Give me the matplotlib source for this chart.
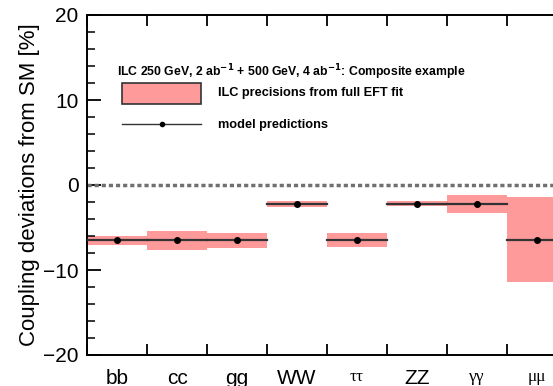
"""ILC composite Higgs example: coupling deviations vs. EFT-fit precisions."""

import matplotlib
matplotlib.use("Agg")
import matplotlib.pyplot as plt
from matplotlib.patches import Rectangle
from matplotlib.lines import Line2D

plt.rcParams["font.family"] = ["Liberation Sans", "DejaVu Sans"]

couplings = ["bb", "cc", "gg", "WW", "ττ", "ZZ", "γγ", "μμ"]
predictions = [-6.5, -6.5, -6.5, -2.2, -6.5, -2.2, -2.2, -6.5]
band_high = [-6.0, -5.4, -5.6, -1.85, -5.7, -1.9, -1.2, -1.45]
band_low = [-7.1, -7.6, -7.45, -2.55, -7.25, -2.5, -3.35, -11.45]
n_bins = 9  # plot continues past the right edge of the crop

band_color = "#ff9a9a"

fig = plt.figure(figsize=(5.53, 3.86), dpi=100)
ax = fig.add_axes([87 / 553, 31 / 386, n_bins * 60 / 553, 340 / 386])

for i, (pred, hi, lo) in enumerate(zip(predictions, band_high, band_low)):
    ax.add_patch(Rectangle((i, lo), 1, hi - lo, facecolor=band_color,
                           edgecolor="none", zorder=1))
    ax.plot([i, i + 1], [pred, pred], color="#333333", lw=1.6, zorder=3)
    ax.plot(i + 0.5, pred, "o", color="black", ms=4, zorder=4)

ax.axhline(0, color="#707070", lw=2.5, ls=(0, (1.2, 0.85)), zorder=2)

ax.set_xlim(0, n_bins)
ax.set_ylim(-20, 20)

ax.set_yticks([-20, -10, 0, 10, 20])
ax.set_yticklabels(["\u221220", "\u221210", "0", "10", "20"])
ax.set_yticks(range(-20, 21, 2), minor=True)
ax.tick_params(axis="y", which="major", direction="in", length=10, width=1.3,
               labelsize=15, pad=6)
ax.tick_params(axis="y", which="minor", direction="in", length=5.5, width=1.1)

ax.set_xticks([i + 0.5 for i in range(len(couplings))])
ax.set_xticklabels(couplings)
for lbl in ax.get_xticklabels():
    if lbl.get_text() in ("ττ", "γγ", "μμ"):
        lbl.set_family(["Liberation Serif", "DejaVu Serif"])
        lbl.set_fontsize(12.5)
    else:
        lbl.set_fontsize(15)
ax.set_xticks(range(0, n_bins + 1), minor=True)
ax.tick_params(axis="x", which="major", length=0, pad=10)
ax.tick_params(axis="x", which="minor", direction="in", length=8, width=1.3,
               top=True, bottom=True)

for sp in ax.spines.values():
    sp.set_linewidth(1.4)

ax.set_ylabel("Coupling deviations from SM [%]", fontsize=16, labelpad=2)

# legend drawn by hand, as in the original figure
ax.text(117, 386 - 72,
        r"ILC 250 GeV, 2 ab$^{\mathbf{-1}}$ + 500 GeV, 4 ab$^{\mathbf{-1}}$: Composite example",
        transform=None, fontsize=8.8, fontweight="bold", va="center")
fig.patches.append(Rectangle((122 / 553, 1 - 104 / 386), 79 / 553, 21 / 386,
                             transform=fig.transFigure, facecolor=band_color,
                             edgecolor="#333333", lw=1.2))
ax.text(218, 386 - 93, "ILC precisions from full EFT fit", transform=None,
        fontsize=9.2, fontweight="bold", va="center")
fig.lines.append(Line2D([122 / 553, 201 / 553], [1 - 124 / 386, 1 - 124 / 386],
                        transform=fig.transFigure, color="#333333", lw=1.0))
fig.lines.append(Line2D([162 / 553], [1 - 124 / 386], transform=fig.transFigure,
                        marker="o", ms=3, color="black"))
ax.text(218, 386 - 125, "model predictions", transform=None,
        fontsize=9.2, fontweight="bold", va="center")

fig.savefig("out.png", dpi=100)
